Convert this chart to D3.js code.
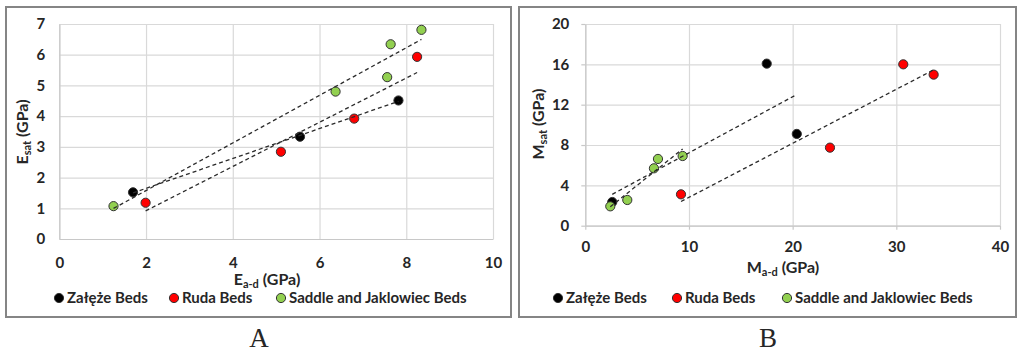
<!DOCTYPE html>
<html>
<head>
<script src="https://d3js.org/d3.v7.min.js"></script>
<style>
  body { margin: 0; background: #fff; }
  svg text { font-family: Lato, "Open Sans", sans-serif; font-weight: bold; fill: #262626; }
  .grid line { stroke: #d9d9d9; stroke-width: 1.2; }
  .grid path { stroke: none; }
  .axis path, .axis line { stroke: #c8c8c8; stroke-width: 1.2; }
  .axis text { font-size: 15px; }
  .trend { fill: none; stroke: #2b2b2b; stroke-width: 1.3; stroke-dasharray: 4,3; }
  .panel { fill: none; stroke: #858585; stroke-width: 2; }
  .letter { font-family: "Liberation Serif", "DejaVu Serif", serif !important; font-weight: normal !important; font-size: 27px; }
</style>
</head>
<body>
<div id="chart"></div>
<script>
// series names shared by both panels
var seriesNames = ["Załęże Beds", "Ruda Beds", "Saddle and Jaklowiec Beds"];

// panel A: E_a-d vs E_sat (GPa)
var aZalezeX = [1.7, 5.55, 7.82],
    aZalezeY = [1.52, 3.33, 4.51];
var aRudaX = [1.99, 5.11, 6.8, 8.25],
    aRudaY = [1.18, 2.84, 3.92, 5.93];
var aSaddleX = [1.25, 6.37, 7.56, 7.64, 8.35],
    aSaddleY = [1.07, 4.8, 5.27, 6.34, 6.81];
var aXTicks = [0, 2, 4, 6, 8, 10],
    aYTicks = [0, 1, 2, 3, 4, 5, 6, 7];

// panel B: M_a-d vs M_sat (GPa)
var bZalezeX = [2.6, 17.5, 20.4],
    bZalezeY = [2.35, 16.07, 9.1];
var bRudaX = [9.23, 23.6, 30.67, 33.6],
    bRudaY = [3.11, 7.74, 16.0, 14.98];
var bSaddleX = [2.41, 4.05, 6.62, 7.01, 9.39],
    bSaddleY = [1.92, 2.55, 5.69, 6.62, 6.91];
var bXTicks = [0, 10, 20, 30, 40],
    bYTicks = [0, 4, 8, 12, 16, 20];

var colors = ["#000000", "#ff0000", "#92d050"];

var svg = d3.select("#chart").append("svg")
    .attr("width", 1017)
    .attr("height", 352);

function zip(xs, ys) {
    return xs.map(function(x, i) { return [x, ys[i]]; });
}

// least squares line over the series' x range
function fit(pts) {
    var mx = d3.mean(pts, function(d) { return d[0]; }),
        my = d3.mean(pts, function(d) { return d[1]; });
    var sxy = d3.sum(pts, function(d) { return (d[0] - mx) * (d[1] - my); }),
        sxx = d3.sum(pts, function(d) { return (d[0] - mx) * (d[0] - mx); });
    var b = sxy / sxx, a = my - b * mx;
    var ext = d3.extent(pts, function(d) { return d[0]; });
    return ext.map(function(x) { return [x, a + b * x]; });
}

function drawPanel(p) {
    var g = svg.append("g");
    g.append("rect").attr("class", "panel")
        .attr("x", p.box[0]).attr("y", p.box[1])
        .attr("width", p.box[2]).attr("height", p.box[3]);

    var x = d3.scaleLinear().domain(p.xDomain).range(p.xRange);
    var y = d3.scaleLinear().domain(p.yDomain).range(p.yRange);
    var h = p.yRange[0] - p.yRange[1],
        w = p.xRange[1] - p.xRange[0];
    var fmt = d3.format("d");

    // gridlines
    g.append("g").attr("class", "grid")
        .attr("transform", "translate(0," + p.yRange[0] + ")")
        .call(d3.axisBottom(x).tickValues(p.xTicks).tickSize(-h).tickFormat(""));
    g.append("g").attr("class", "grid")
        .attr("transform", "translate(" + p.xRange[0] + ",0)")
        .call(d3.axisLeft(y).tickValues(p.yTicks).tickSize(-w).tickFormat(""));

    // axes
    g.append("g").attr("class", "axis")
        .attr("transform", "translate(0," + p.yRange[0] + ")")
        .call(d3.axisBottom(x).tickValues(p.xTicks).tickFormat(fmt)
            .tickSizeInner(p.tick).tickSizeOuter(0).tickPadding(p.xPad))
        .call(function(s) { s.selectAll(".tick line").attr("stroke", "#c8c8c8"); });
    g.append("g").attr("class", "axis")
        .attr("transform", "translate(" + p.xRange[0] + ",0)")
        .call(d3.axisLeft(y).tickValues(p.yTicks).tickFormat(fmt)
            .tickSizeInner(p.tick).tickSizeOuter(0).tickPadding(p.yPad))
        .call(function(s) { s.selectAll(".tick line").attr("stroke", "#c8c8c8"); });
    g.selectAll(".axis text").attr("fill", "#262626");

    // points
    p.series.forEach(function(pts, i) {
        g.append("g").selectAll("circle")
            .data(pts)
            .enter().append("circle")
            .attr("cx", function(d) { return x(d[0]); })
            .attr("cy", function(d) { return y(d[1]); })
            .attr("r", 4.6)
            .attr("fill", colors[i])
            .attr("stroke", "#333")
            .attr("stroke-width", 1);
    });

    // trend lines on top
    var line = d3.line()
        .x(function(d) { return x(d[0]); })
        .y(function(d) { return y(d[1]); });
    p.series.forEach(function(pts) {
        g.append("path").attr("class", "trend").attr("d", line(fit(pts)));
    });

    // axis titles
    var xt = g.append("text")
        .attr("x", p.xTitle[0]).attr("y", p.xTitle[1])
        .attr("text-anchor", "middle").attr("font-size", 16);
    xt.append("tspan").text(p.letterX);
    xt.append("tspan").attr("font-size", 11).attr("dy", 3).text("a-d");
    xt.append("tspan").attr("dy", -3).text(" (GPa)");

    var yt = g.append("text")
        .attr("transform", "translate(" + p.yTitle[0] + "," + p.yTitle[1] + ") rotate(-90)")
        .attr("text-anchor", "middle").attr("font-size", 16);
    yt.append("tspan").text(p.letterX);
    yt.append("tspan").attr("font-size", 11).attr("dy", 3).text("sat");
    yt.append("tspan").attr("dy", -3).text(" (GPa)");

    // legend
    var lg = g.append("g");
    seriesNames.forEach(function(name, i) {
        lg.append("circle")
            .attr("cx", p.legendX[i]).attr("cy", 298)
            .attr("r", 4.6)
            .attr("fill", colors[i])
            .attr("stroke", "#333").attr("stroke-width", 1);
        lg.append("text")
            .attr("x", p.legendX[i] + 8).attr("y", 303)
            .attr("font-size", 15)
            .text(name);
    });

    g.append("text").attr("class", "letter")
        .attr("x", p.letter[0]).attr("y", p.letter[1])
        .attr("text-anchor", "middle")
        .text(p.letterName);
}

drawPanel({
    box: [6, 7, 505, 310],
    xDomain: [0, 10], xRange: [59.3, 493],
    yDomain: [0, 7], yRange: [239, 24],
    xTicks: aXTicks, yTicks: aYTicks,
    tick: 0, xPad: 18, yPad: 14,
    series: [zip(aZalezeX, aZalezeY), zip(aRudaX, aRudaY), zip(aSaddleX, aSaddleY)],
    letterX: "E",
    xTitle: [267, 285], yTitle: [28, 132],
    legendX: [59, 174, 281],
    letter: [259, 347], letterName: "A"
});

drawPanel({
    box: [519, 7, 497, 310],
    xDomain: [0, 40], xRange: [585.3, 1000],
    yDomain: [0, 20], yRange: [225.7, 24],
    xTicks: bXTicks, yTicks: bYTicks,
    tick: 4, xPad: 12, yPad: 12,
    series: [zip(bZalezeX, bZalezeY), zip(bRudaX, bRudaY), zip(bSaddleX, bSaddleY)],
    letterX: "M",
    xTitle: [783, 273], yTitle: [544, 124],
    legendX: [558, 677, 787],
    letter: [768, 347], letterName: "B"
});
</script>
</body>
</html>
